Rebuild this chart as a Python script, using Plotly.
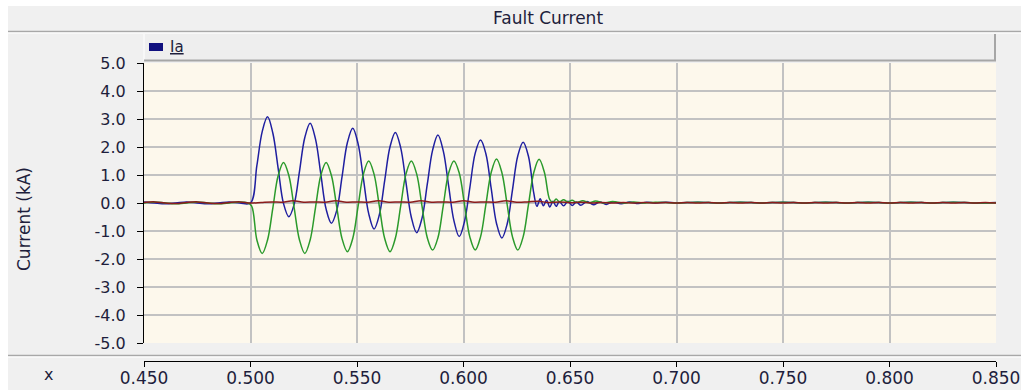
import plotly.graph_objects as go

# ---------------- data ----------------
# Phase "Ia" (blue)
t_ia = [0.450, 0.455, 0.460, 0.465, 0.470, 0.475, 0.480, 0.485, 0.490, 0.495, 0.500,
        0.503, 0.5055, 0.508, 0.5105, 0.513, 0.5155, 0.518, 0.5205, 0.523, 0.5255,
        0.528, 0.5305, 0.533, 0.5355, 0.538, 0.5405, 0.543, 0.5455, 0.548, 0.5505,
        0.553, 0.5555, 0.558, 0.5605, 0.563, 0.5655, 0.568, 0.5705, 0.573, 0.5755,
        0.578, 0.5805, 0.583, 0.5855, 0.588, 0.5905, 0.593, 0.5955, 0.598, 0.6005,
        0.603, 0.6055, 0.608, 0.6105, 0.613, 0.6155, 0.618, 0.6205, 0.623, 0.6255,
        0.628, 0.6305, 0.633,
        0.6345, 0.636, 0.6375, 0.639, 0.6405, 0.642, 0.6435, 0.645, 0.647, 0.649,
        0.651, 0.653, 0.655, 0.658, 0.661, 0.664, 0.667, 0.670, 0.674, 0.678,
        0.682, 0.686, 0.690, 0.695, 0.700, 0.710, 0.720, 0.730, 0.740, 0.750,
        0.760, 0.770, 0.780, 0.790, 0.800, 0.810, 0.820, 0.830, 0.840, 0.850]
ia = [0.04, 0.00, -0.03, 0.00, 0.04, 0.00, -0.03, 0.00, 0.04, 0.00, 0.00,
      1.34, 2.55, 3.08, 2.49, 1.23, -0.02, -0.49, -0.05, 1.13, 2.34,
      2.85, 2.29, 1.04, -0.22, -0.72, -0.26, 0.95, 2.16, 2.67, 2.12,
      0.87, -0.38, -0.93, -0.42, 0.80, 2.01, 2.52, 1.98, 0.73, -0.51,
      -1.06, -0.55, 0.67, 1.89, 2.43, 1.86, 0.62, -0.63, -1.20, -0.65,
      0.56, 1.78, 2.25, 1.76, 0.52, -0.73, -1.25, -0.75, 0.47, 1.69,
      2.17, 1.67, 0.35,
      -0.12, 0.15, -0.10, 0.10, -0.14, 0.06, -0.12, 0.05, -0.10, 0.06,
      -0.09, 0.04, -0.08, 0.05, -0.06, 0.04, -0.05, 0.04, -0.03, 0.04,
      -0.02, 0.03, 0.00, 0.03, 0.00, 0.03, 0.00, 0.03, 0.00, 0.03,
      0.00, 0.03, 0.00, 0.03, 0.00, 0.03, 0.00, 0.03, 0.00, 0.02]

# Second phase (green)
t_ib = [0.450, 0.455, 0.460, 0.465, 0.470, 0.475, 0.480, 0.485, 0.490, 0.495, 0.4985,
        0.5005, 0.503, 0.5055, 0.508, 0.5105, 0.513, 0.5155, 0.518, 0.5205, 0.523,
        0.5255, 0.528, 0.5305, 0.533, 0.5355, 0.538, 0.5405, 0.543, 0.5455, 0.548,
        0.5505, 0.553, 0.5555, 0.558, 0.5605, 0.563, 0.5655, 0.568, 0.5705, 0.573,
        0.5755, 0.578, 0.5805, 0.583, 0.5855, 0.588, 0.5905, 0.593, 0.5955, 0.598,
        0.6005, 0.603, 0.6055, 0.608, 0.6105, 0.613, 0.6155, 0.618, 0.6205, 0.623,
        0.6255, 0.628, 0.6305, 0.633, 0.6355, 0.638,
        0.6405, 0.642, 0.6435, 0.645, 0.647, 0.649, 0.651, 0.653, 0.656, 0.659,
        0.662, 0.666, 0.670, 0.675, 0.680, 0.685, 0.690, 0.700, 0.710, 0.720,
        0.730, 0.740, 0.750, 0.760, 0.770, 0.780, 0.790, 0.800, 0.810, 0.820,
        0.830, 0.840, 0.850]
ib = [0.00, 0.04, 0.00, -0.03, 0.00, 0.04, 0.00, -0.03, 0.00, 0.04, 0.01,
      -0.10, -1.32, -1.80, -1.32, -0.17, 0.98, 1.45, 0.98, -0.17, -1.32,
      -1.80, -1.32, -0.17, 0.98, 1.45, 0.98, -0.15, -1.28, -1.74, -1.27,
      -0.12, 1.03, 1.50, 1.03, -0.12, -1.27, -1.74, -1.26, -0.11, 1.04,
      1.50, 1.04, -0.10, -1.24, -1.68, -1.24, -0.09, 1.06, 1.50, 1.07,
      -0.07, -1.22, -1.68, -1.21, -0.06, 1.09, 1.57, 1.09, -0.06, -1.21,
      -1.68, -1.21, -0.06, 1.09, 1.56, 1.09,
      0.12, 0.02, 0.14, 0.04, 0.12, 0.03, 0.10, 0.02, 0.08, 0.01,
      0.07, 0.00, 0.05, 0.00, 0.04, 0.00, 0.03, 0.00, 0.03, 0.00,
      0.03, 0.00, 0.03, 0.00, 0.03, 0.00, 0.03, 0.00, 0.03, 0.00,
      0.03, 0.00, 0.01]

# Third phase (dark red)
t_ic = [0.450, 0.455, 0.460, 0.465, 0.470, 0.475, 0.480, 0.485, 0.490, 0.495,
        0.500, 0.505, 0.510, 0.515, 0.520, 0.525, 0.530, 0.535, 0.540, 0.545,
        0.550, 0.555, 0.560, 0.565, 0.570, 0.575, 0.580, 0.585, 0.590, 0.595,
        0.600, 0.605, 0.610, 0.615, 0.620, 0.625, 0.630, 0.635, 0.640, 0.645,
        0.650, 0.655, 0.660, 0.665, 0.670, 0.675, 0.680, 0.685, 0.690, 0.695,
        0.700, 0.705, 0.710, 0.715, 0.720, 0.725, 0.730, 0.735, 0.740, 0.745,
        0.750, 0.755, 0.760, 0.765, 0.770, 0.775, 0.780, 0.785, 0.790, 0.795,
        0.800, 0.805, 0.810, 0.815, 0.820, 0.825, 0.830, 0.835, 0.840, 0.845, 0.850]
ic = [0.02, 0.04, 0.00, -0.02, 0.02, 0.04, 0.00, -0.02, 0.02, 0.04,
      0.00, 0.02, 0.04, 0.03, 0.08, 0.03, 0.04, 0.03, 0.08, 0.03,
      0.04, 0.03, 0.08, 0.03, 0.04, 0.03, 0.08, 0.03, 0.04, 0.03,
      0.08, 0.03, 0.04, 0.03, 0.08, 0.03, 0.04, 0.06, 0.02, 0.04,
      0.01, 0.03, 0.00, 0.02, 0.00, 0.02, 0.00, 0.02, 0.00, 0.02,
      0.00, 0.02, 0.00, 0.02, 0.00, 0.02, 0.00, 0.02, 0.00, 0.02,
      0.00, 0.02, 0.00, 0.02, 0.00, 0.02, 0.00, 0.02, 0.00, 0.02,
      0.00, 0.02, 0.00, 0.02, 0.00, 0.02, 0.00, 0.02, 0.00, 0.02, 0.00]

y_tick_vals = [-5, -4, -3, -2, -1, 0, 1, 2, 3, 4, 5]
y_tick_text = ["-5.0", "-4.0", "-3.0", "-2.0", "-1.0", "0.0", "1.0", "2.0", "3.0", "4.0", "5.0"]
x_tick_vals = [0.45, 0.50, 0.55, 0.60, 0.65, 0.70, 0.75, 0.80, 0.85]
x_tick_text = ["0.450", "0.500", "0.550", "0.600", "0.650", "0.700", "0.750", "0.800", "0.850"]

TITLE = "Fault Current"
Y_TITLE = "Current (kA)"
LEGEND_NAME = "Ia"

# ---------------- layout helpers ----------------
W, H = 1021, 390
L, R, T, B = 144, 996, 63, 361      # plot left/right, plot top, x-axis line
PLOT_BOTTOM = 343
FONT = "DejaVu Sans, Verdana, sans-serif"
TXT = "#1e1e3c"


def px(x):
    return (x - L) / (R - L)


def py(y):
    return (B - y) / (B - T)


fig = go.Figure()
fig.add_trace(go.Scatter(x=t_ia, y=ia, mode="lines", name=LEGEND_NAME,
                         line=dict(color="#1f1fa0", width=1.5, shape="spline", smoothing=1.0)))
fig.add_trace(go.Scatter(x=t_ib, y=ib, mode="lines", name="Ib",
                         line=dict(color="#2b9a2b", width=1.5, shape="spline", smoothing=1.0)))
fig.add_trace(go.Scatter(x=t_ic, y=ic, mode="lines", name="Ic",
                         line=dict(color="#8b1c1c", width=1.5, shape="spline", smoothing=1.0)))

shapes = []
# white outer strips
shapes.append(dict(type="rect", xref="paper", yref="paper", x0=px(0), x1=px(W), y0=py(0), y1=py(6),
                   fillcolor="#ffffff", line=dict(width=0), layer="below"))
shapes.append(dict(type="rect", xref="paper", yref="paper", x0=px(0), x1=px(8), y0=py(0), y1=py(H),
                   fillcolor="#ffffff", line=dict(width=0), layer="below"))
# title separator
shapes.append(dict(type="line", xref="paper", yref="paper", x0=px(8), x1=px(W), y0=py(31.5), y1=py(31.5),
                   line=dict(color="#a8a8a8", width=1.5)))
shapes.append(dict(type="line", xref="paper", yref="paper", x0=px(8), x1=px(W), y0=py(33), y1=py(33),
                   line=dict(color="#ffffff", width=1)))
# legend band
shapes.append(dict(type="rect", xref="paper", yref="paper", x0=px(L), x1=px(R), y0=py(34), y1=py(61),
                   fillcolor="#eeeeee", line=dict(width=0)))
shapes.append(dict(type="line", xref="paper", yref="paper", x0=px(L), x1=px(L), y0=py(34), y1=py(61),
                   line=dict(color="#ffffff", width=1)))
shapes.append(dict(type="line", xref="paper", yref="paper", x0=px(L), x1=px(R), y0=py(60.5), y1=py(60.5),
                   line=dict(color="#a6a6a6", width=2)))
shapes.append(dict(type="line", xref="paper", yref="paper", x0=px(R - 1), x1=px(R - 1), y0=py(34), y1=py(61),
                   line=dict(color="#a6a6a6", width=2)))
# legend swatch
shapes.append(dict(type="rect", xref="paper", yref="paper", x0=px(149), x1=px(163), y0=py(43), y1=py(51),
                   fillcolor="#10107f", line=dict(width=0)))
# separator above x axis
shapes.append(dict(type="line", xref="paper", yref="paper", x0=px(8), x1=px(W), y0=py(355.5), y1=py(355.5),
                   line=dict(color="#a8a8a8", width=1.5)))
shapes.append(dict(type="line", xref="paper", yref="paper", x0=px(8), x1=px(W), y0=py(357), y1=py(357),
                   line=dict(color="#ffffff", width=1)))

annotations = [
    dict(text=TITLE, xref="paper", yref="paper", x=px(548), y=py(18), showarrow=False,
         xanchor="center", yanchor="middle", font=dict(family=FONT, size=17, color=TXT)),
    dict(text=Y_TITLE, xref="paper", yref="paper", x=px(24), y=py(219), showarrow=False, textangle=-90,
         xanchor="center", yanchor="middle", font=dict(family=FONT, size=17, color=TXT)),
    dict(text="x", xref="paper", yref="paper", x=px(48), y=py(374), showarrow=False,
         xanchor="center", yanchor="middle", font=dict(family=FONT, size=16, color=TXT)),
    dict(text='<span style="text-decoration:underline">' + LEGEND_NAME + '</span>', xref="paper", yref="paper",
         x=px(168), y=py(47), showarrow=False, xanchor="left", yanchor="middle",
         font=dict(family=FONT, size=15, color=TXT)),
]

fig.update_layout(
    width=W, height=H,
    margin=dict(l=L, r=W - R, t=T, b=H - B, pad=0, autoexpand=False),
    paper_bgcolor="#f0f0f0",
    plot_bgcolor="#fdf8ec",
    showlegend=False,
    shapes=shapes,
    annotations=annotations,
    xaxis=dict(range=[0.45, 0.85], tickvals=x_tick_vals, ticktext=x_tick_text,
               anchor="free", position=0, automargin=False,
               showgrid=True, gridcolor="#c2c2c2", gridwidth=2, zeroline=False,
               showline=True, linecolor="#000000", linewidth=1,
               ticks="outside", ticklen=5, tickcolor="#000000", tickwidth=1,
               ticklabelstandoff=-3,
               tickfont=dict(family=FONT, size=17, color=TXT)),
    yaxis=dict(domain=[py(PLOT_BOTTOM), 1], range=[-5, 5], tickvals=y_tick_vals, ticktext=y_tick_text,
               automargin=False,
               showgrid=True, gridcolor="#c2c2c2", gridwidth=2, zeroline=False,
               showline=True, linecolor="#000000", linewidth=1,
               ticks="outside", ticklen=6, tickcolor="#000000", tickwidth=1,
               ticklabelstandoff=8,
               tickfont=dict(family=FONT, size=16, color=TXT)),
)

fig.write_html("out.html")
